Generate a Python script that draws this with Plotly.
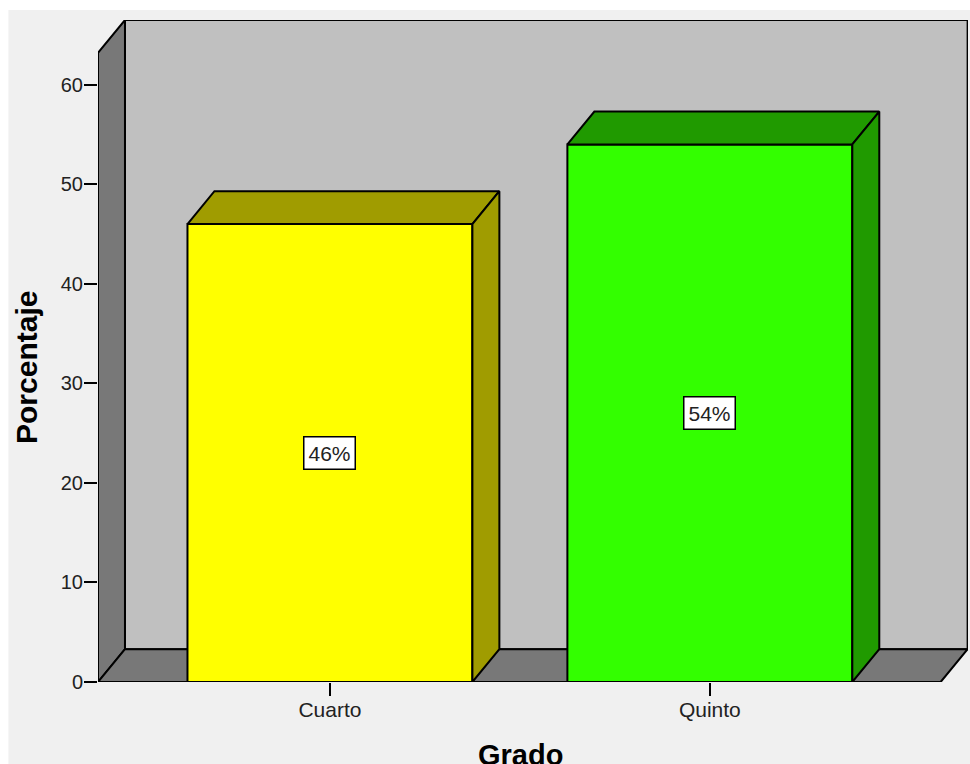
import plotly.graph_objects as go

# Data
grados = ["Cuarto", "Quinto"]
porcentajes = [46, 54]
y_ticks = [0, 10, 20, 30, 40, 50, 60]

# Colours
front_colors = ["#ffff00", "#33ff00"]
side_colors = ["#a09c00", "#209a00"]
WALL = "#c0c0c0"
SHADE = "#787878"
PANEL = "#f0f0f0"
INK = "#000000"
TEXT = "#222222"

# Axis frame and the oblique projection used for the 3D look
X_MIN, X_MAX = -0.6105, 1.6795
Y_MIN, Y_MAX = 0, 66.5
FRONT_RIGHT = 1.6075
DX, DY = 0.071, 3.3
BAR_W = 0.75


def closed(xs, ys):
    return list(xs) + [xs[0]], list(ys) + [ys[0]]


def path(xs, ys):
    pts = " L ".join(f"{x},{y}" for x, y in zip(xs, ys))
    return f"M {pts} Z"


fig = go.Figure()

# Page panel, back wall, side wall and floor sit underneath the traces
shapes = [
    dict(type="rect", xref="paper", yref="paper", x0=-0.103, x1=1.003, y0=-0.13, y1=1.015,
         fillcolor=PANEL, line_width=0, layer="below"),
    dict(type="rect", xref="x", yref="y", x0=X_MIN + DX, x1=FRONT_RIGHT + DX, y0=DY, y1=Y_MAX,
         fillcolor=WALL, line=dict(color=INK, width=2), layer="below"),
    dict(type="path", xref="x", yref="y",
         path=path([X_MIN, X_MIN + DX, X_MIN + DX, X_MIN], [0, DY, Y_MAX, Y_MAX - DY]),
         fillcolor=SHADE, line=dict(color=INK, width=2), layer="below"),
    dict(type="path", xref="x", yref="y",
         path=path([X_MIN, FRONT_RIGHT, FRONT_RIGHT + DX, X_MIN + DX], [0, 0, DY, DY]),
         fillcolor=SHADE, line=dict(color=INK, width=2), layer="below"),
]

# Front faces of the bars
fig.add_trace(go.Bar(
    x=[0, 1], y=porcentajes, width=BAR_W,
    marker=dict(color=front_colors, line=dict(color=INK, width=2)),
    showlegend=False, hoverinfo="skip",
))

# Top and right faces derived from each bar's value
for i, val in enumerate(porcentajes):
    left, right = i - BAR_W / 2, i + BAR_W / 2
    tx, ty = closed([left, right, right + DX, left + DX], [val, val, val + DY, val + DY])
    sx, sy = closed([right, right + DX, right + DX, right], [0, DY, val + DY, val])
    for xs, ys in ((tx, ty), (sx, sy)):
        fig.add_trace(go.Scatter(
            x=xs, y=ys, mode="lines", fill="toself", fillcolor=side_colors[i],
            line=dict(color=INK, width=2), showlegend=False, hoverinfo="skip",
        ))

# Value boxes at mid height of each bar
annotations = [
    dict(x=i, y=val / 2, xref="x", yref="y", text=f"{val}%", showarrow=False,
         bgcolor="#ffffff", bordercolor=INK, borderwidth=1.5, borderpad=4,
         font=dict(family="Liberation Sans", size=21, color=TEXT))
    for i, val in enumerate(porcentajes)
]

# Axis titles
annotations += [
    dict(x=(520 - 98) / 870, y=(682 - 755) / 662, xref="paper", yref="paper",
         xanchor="center", yanchor="middle", text="<b>Grado</b>",
         showarrow=False, font=dict(size=29, color=INK)),
    dict(x=(26 - 98) / 870, y=(682 - 368) / 662, xref="paper", yref="paper",
         xanchor="center", yanchor="middle", text="<b>Porcentaje</b>", textangle=-90,
         showarrow=False, font=dict(size=30, color=INK)),
]

fig.update_layout(
    width=970, height=764,
    margin=dict(l=98, r=2, t=20, b=82),
    paper_bgcolor="#ffffff", plot_bgcolor="rgba(0,0,0,0)",
    shapes=shapes, annotations=annotations,
    font=dict(family="Liberation Sans", size=20, color=TEXT),
    xaxis=dict(
        range=[X_MIN, X_MAX], tickmode="array", tickvals=[0, 1], ticktext=grados,
        ticks="outside", ticklen=13, tickwidth=2, tickcolor=INK, ticklabelstandoff=-4,
        tickfont=dict(size=21),
        showgrid=False, zeroline=False, showline=False,
    ),
    yaxis=dict(
        range=[Y_MIN, Y_MAX], tickmode="array", tickvals=y_ticks,
        ticks="outside", ticklen=13, tickwidth=2, tickcolor=INK, ticklabelstandoff=-3,
        showgrid=False, zeroline=False, showline=False,
    ),
)

fig.write_html("out.html")
